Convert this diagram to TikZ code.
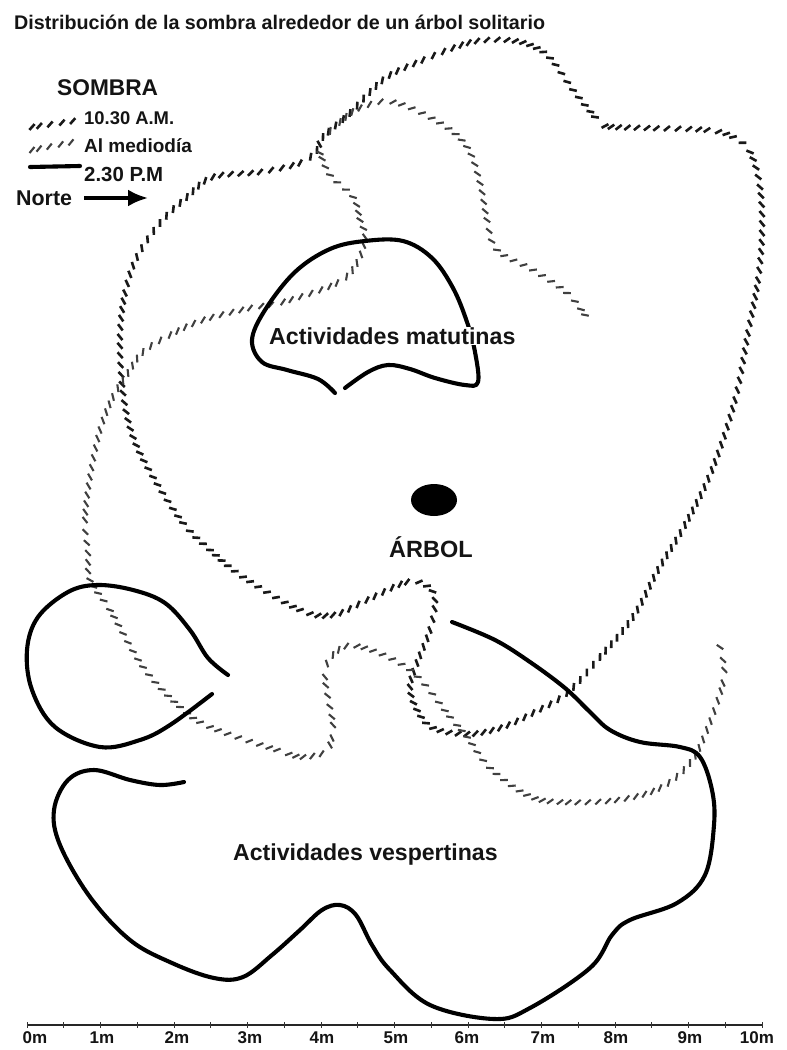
\documentclass[tikz,border=0pt]{standalone}
\usepackage{fontspec}
\setmainfont{Liberation Sans}
\usetikzlibrary{arrows.meta,shapes.geometric}
\tikzset{
  txt/.style={font=\bfseries\fontsize{#1}{#1}\selectfont,inner sep=0pt,text=black!92},
  solidcurve/.style={line width=4.1pt,line cap=round,line join=round,black},
  tickdark/.style={line width=2.6pt,black!90},
  tickmid/.style={line width=2.1pt,black!75},
  tickmark/.style={line width=0.9pt,black!80}
}
\newcommand\ropeseg[2]{%
  \pgfmathsetmacro\rD{veclen(\rXc-\rXb,\rYc-\rYb)}%
  \pgfmathtruncatemacro\rN{max(1,round(\rD/#2))}%
  \pgfmathsetmacro\rAx{\rXc-\rXa}\pgfmathsetmacro\rAy{\rYc-\rYa}%
  \pgfmathsetmacro\rBx{2*\rXa-5*\rXb+4*\rXc-\rXd}\pgfmathsetmacro\rBy{2*\rYa-5*\rYb+4*\rYc-\rYd}%
  \pgfmathsetmacro\rCx{-\rXa+3*\rXb-3*\rXc+\rXd}\pgfmathsetmacro\rCy{-\rYa+3*\rYb-3*\rYc+\rYd}%
  \foreach \rI in {1,...,\rN}{%
    \pgfmathsetmacro\rT{(\rI-1)/\rN}%
    \pgfmathsetmacro\rPx{\rXb+0.5*(\rAx*\rT+\rBx*\rT*\rT+\rCx*\rT*\rT*\rT)}%
    \pgfmathsetmacro\rPy{\rYb+0.5*(\rAy*\rT+\rBy*\rT*\rT+\rCy*\rT*\rT*\rT)}%
    \pgfmathsetmacro\rDx{\rAx+2*\rBx*\rT+3*\rCx*\rT*\rT}%
    \pgfmathsetmacro\rDy{\rAy+2*\rBy*\rT+3*\rCy*\rT*\rT}%
    \pgfmathsetmacro\rAng{atan2(-(\rDy),\rDx)}%
    \draw[#1,shift={(\rPx,\rPy)},rotate=\rAng] (-3pt,-2.5pt) -- (3pt,2.5pt);%
  }%
}
\newcommand\ropecurve[3]{%
  \foreach \rU/\rV [count=\rK] in {#3}{%
    \global\let\rXa\rXb \global\let\rYa\rYb
    \global\let\rXb\rXc \global\let\rYb\rYc
    \global\let\rXc\rXd \global\let\rYc\rYd
    \global\let\rXd\rU  \global\let\rYd\rV
    \ifnum\rK>3 \ropeseg{#1}{#2}\fi
  }%
}
\begin{document}
\begin{tikzpicture}[x=1pt,y=-1pt]
\useasboundingbox (0,0) rectangle (787,1050);
\fill[white] (0,0) rectangle (787,1050);

% 10.30 curve
\ropecurve{tickdark}{9.3}{300/163,317/150,323/137,350/113,370/92,390/75,423/60,453/48,477/41,507/40,530/45,550/58,573/90,595/117,605/126,647/128,707/130,733/137,750/152,760/187,762/233,758/280,748/333,735/400,712/470,685/525,658/570,633/617,600/657,567/693,533/713,500/728,467/734,433/728,417/710,410/687,417/663,430/630,435/600,427/586,407/582,367/600,333/615,300/610,243/577,210/550,183/523,153/477,133/437,123/393,120/337,125/293,137/257,160/223,187/197,213/177,260/172,300/163,317/150,323/137}

% midday curve
\ropecurve{tickmid}{9.6}{585/315,585/315,567/293,533/270,497/250,487/220,480/183,467/147,440/123,393/102,360/108,340/122,323/138,323/138}
\ropecurve{tickmid}{9.6}{320/153,320/153,330/175,353/197,360/220,365/237,357/263,337/283,283/302,250/308,203/320,170/335,143/352,128/373,113/397,100/430,90/477,85/520,88/553,90/580,110/610,143/667,180/707,210/727,277/750,303/757,328/752,328/752}
\ropecurve{tickmid}{9.6}{330/745,330/745,333/725,325/677,333/655,357/646,410/670,450/717,467/737,490/768,527/795,560/802,617/800,660/788,690/763,707/730,723/683,723/660,717/637,717/637}

% 2.30 curves
\draw[solidcurve] plot[smooth,tension=0.6] coordinates {
(335,393)(318,379)(287,370)(262,362)(252,340)(265,310)(295,272)(330,249)(365,241)(403,241)(432,258)(453,288)(467,322)(475,352)(478,382)(465,385)(435,378)(410,369)(388,365)(368,372)(345,388)};
\draw[solidcurve] plot[smooth,tension=0.6] coordinates {
(228,675)(208,658)(190,630)(165,603)(133,590)(97,585)(68,592)(38,617)(27,650)(32,690)(55,727)(100,747)(140,740)(170,725)(212,694)};
\draw[solidcurve] plot[smooth,tension=0.6] coordinates {
(184,782)(160,785)(130,780)(94,770)(68,780)(54,810)(60,845)(90,897)(130,940)(172,963)(214,978)(243,977)(272,955)(300,930)(322,910)(340,905)(356,915)(372,945)(390,970)(430,1005)(494,1019)(530,1008)(590,968)(612,935)(630,920)(677,903)(705,875)(714,825)(712,790)(700,757)(680,747)(640,742)(610,730)(590,712)(565,688)(530,662)(495,640)(452,622)};

% tree
\node[draw=none,fill=black,ellipse,minimum width=46pt,minimum height=32pt,inner sep=0pt] (tree) at (434,500) {};

% labels
\node[txt=19.7,anchor=west] (title) at (14,22) {Distribución de la sombra alrededor de un árbol solitario};
\node[txt=22.7,anchor=west] (sombra) at (57,88) {SOMBRA};
\node[txt=18.4,anchor=west] (l1) at (84,118) {10.30 A.M.};
\node[txt=19,anchor=west] (l2) at (84,146) {Al mediodía};
\node[txt=20.4,anchor=west] (l3) at (84,174) {2.30 P.M};
\node[txt=21.4,anchor=west] (norte) at (16,198) {Norte};
\node[txt=23.5] (arbol) at (431,547) {ÁRBOL};
\node[txt=23.2,fill=white,inner xsep=1pt,inner ysep=0pt,anchor=west] (mat) at (268,336) {Actividades matutinas};
\node[txt=23.1,anchor=west] (ves) at (233,855) {Actividades vespertinas};

% legend samples
\ropecurve{tickdark}{9.3}{32/127,32/127,80/120,80/120}
\ropecurve{tickmid}{9.6}{32/150,32/150,78/141,78/141}
\coordinate (c1) at (30,167); \coordinate (c2) at (80,166);
\draw[solidcurve] (c1) -- (c2);
\coordinate (n1) at (84,198); \coordinate (n2) at (148,198);
\draw[line width=3.6pt,-{Latex[length=20pt,width=17pt]}] (n1) -- (n2);

% scale
\coordinate (s0) at (27,1025); \coordinate (s1) at (762,1025);
\draw[line width=1.3pt,black!85] (s0) -- (s1);
\foreach \i in {0,...,20}{\draw[tickmark] ({27+\i*36.75},1022) -- ({27+\i*36.75},1028);}
\foreach \x/\lab in {35/0m,102/1m,177/2m,250/3m,322/4m,396/5m,467/6m,543/7m,616/8m,690/9m,757/10m}{
  \node[txt=17] (m\lab) at (\x,1038) {\lab};}
\end{tikzpicture}
\end{document}
